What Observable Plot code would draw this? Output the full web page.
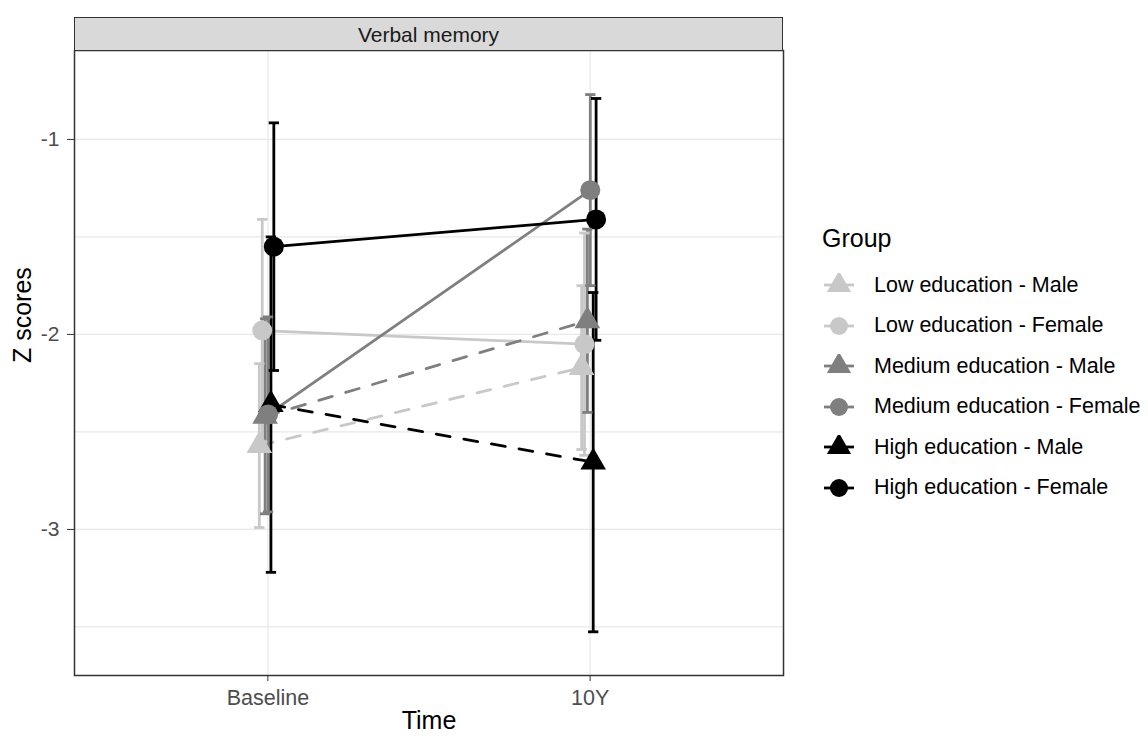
<!DOCTYPE html>
<html>
<head>
<meta charset="utf-8">
<script src="https://cdn.jsdelivr.net/npm/d3@7"></script>
<script src="https://cdn.jsdelivr.net/npm/@observablehq/plot@0.6"></script>
<style>
  html, body { margin: 0; padding: 0; background: #fff; }
  body { font-family: "Liberation Sans", Arial, sans-serif; }
  #wrap { position: relative; width: 1148px; height: 737px; overflow: hidden; }
  #strip { position: absolute; left: 74px; top: 17px; width: 707px; height: 32px;
           background: #d9d9d9; border: 1px solid #333; text-align: center;
           font-size: 21px; line-height: 33px; color: #1a1a1a; }
  #legend { position: absolute; left: 0; top: 0; color: #000; }
  #legend .title { position: absolute; left: 822px; top: 223px; font-size: 25px; line-height: 30px; white-space: nowrap; }
  #legend .item { position: absolute; left: 821px; height: 40px; display: flex; align-items: center;
                  font-size: 21.5px; white-space: nowrap; }
  #legend svg { margin-right: 17px; }
</style>
</head>
<body>
<div id="wrap">
  <div id="chart"></div>
  <div id="strip"></div>
  <div id="legend"></div>
</div>
<script>
const panelTitle = "Verbal memory";
const legendTitle = "Group";
const timePoints = ["Baseline", "10Y"];
const groups = [
  "Low education - Male",
  "Low education - Female",
  "Medium education - Male",
  "Medium education - Female",
  "High education - Male",
  "High education - Female"
];
const groupColors = ["#c8c8c8", "#c8c8c8", "#7f7f7f", "#7f7f7f", "#000000", "#000000"];
const groupSymbols = ["triangle", "circle", "triangle", "circle", "triangle", "circle"];
const groupSex = ["Male", "Female", "Male", "Female", "Male", "Female"];
const baselineMean = [-2.57, -1.98, -2.42, -2.41, -2.36, -1.55];
const baselineErr  = [0.42, 0.57, 0.50, 0.50, 0.86, 0.635];
const tenYearMean  = [-2.17, -2.05, -1.93, -1.26, -2.655, -1.41];
const tenYearErr   = [0.42, 0.57, 0.47, 0.49, 0.87, 0.62];
const yTicks = [-3, -2, -1];
const yMinorTicks = [-3.5, -2.5, -1.5];

const dodge = 0.009;
const dodgeShift = -0.004;
const capHalf = 0.016;

const rows = groups.flatMap((g, i) => [
  {g, i, t: 0, mean: baselineMean[i], err: baselineErr[i]},
  {g, i, t: 1, mean: tenYearMean[i], err: tenYearErr[i]}
]).map(d => ({
  ...d,
  x: d.t + (d.i - 2.5) * dodge + dodgeShift,
  lo: d.mean - d.err,
  hi: d.mean + d.err,
  color: groupColors[d.i],
  symbol: groupSymbols[d.i],
  sex: groupSex[d.i]
}));
const caps = rows.flatMap(d => [{...d, y: d.lo}, {...d, y: d.hi}]);
const males = rows.filter(d => d.sex === "Male");
const females = rows.filter(d => d.sex === "Female");

const chart = Plot.plot({
  width: 1148,
  height: 737,
  marginLeft: 74,
  marginRight: 365,
  marginTop: 50,
  marginBottom: 62,
  style: {fontFamily: "Liberation Sans, Arial, sans-serif", background: "#fff", fontSize: "21px"},
  x: {domain: [-0.6, 1.6]},
  y: {domain: [-3.749, -0.544]},
  marks: [
    Plot.gridY([...yTicks, ...yMinorTicks], {stroke: "#e8e8e8", strokeOpacity: 1, strokeWidth: 1.2}),
    Plot.gridX([0, 1], {stroke: "#e8e8e8", strokeOpacity: 1, strokeWidth: 1.2}),
    Plot.line(females, {x: "x", y: "mean", z: "g", stroke: "color", strokeWidth: 2.8}),
    Plot.line(males, {x: "x", y: "mean", z: "g", stroke: "color", strokeWidth: 2.8, strokeDasharray: "14,14"}),
    Plot.ruleX(rows, {x: "x", y1: "lo", y2: "hi", stroke: "color", strokeWidth: 2.8}),
    Plot.link(caps, {x1: d => d.x - capHalf, x2: d => d.x + capHalf, y1: "y", y2: "y", stroke: "color", strokeWidth: 2.8}),
    Plot.dot(rows.filter(d => d.symbol === "triangle"), {x: "x", y: "mean", symbol: "triangle", fill: "color", stroke: "none", r: 9.5}),
    Plot.dot(rows.filter(d => d.symbol === "circle"), {x: "x", y: "mean", symbol: "circle", fill: "color", stroke: "none", r: 10}),
    Plot.frame({stroke: "#333", strokeWidth: 1.5}),
    Plot.axisY(yTicks, {tickSize: 7, tickPadding: 8, stroke: "#333", fontSize: 21, color: "#4d4d4d", tickFormat: d => String(d), label: null}),
    Plot.axisX([0, 1], {tickSize: 6, tickPadding: 8, stroke: "#333", fontSize: 21.5, color: "#4d4d4d", tickFormat: d => timePoints[d], label: null}),
    Plot.text(["Time"], {frameAnchor: "bottom", dy: 53, fontSize: 25, fill: "#000"}),
    Plot.text(["Z scores"], {frameAnchor: "left", dx: -52, rotate: -90, fontSize: 25, fill: "#000"})
  ]
});
document.getElementById("chart").appendChild(chart);
document.getElementById("strip").textContent = panelTitle;

// Legend
const legend = document.getElementById("legend");
const title = document.createElement("div");
title.className = "title";
title.textContent = legendTitle;
legend.appendChild(title);
const legendCenters = groups.map((g, i) => 285 + i * 40.5);
groups.forEach((g, i) => {
  const item = document.createElement("div");
  item.className = "item";
  item.style.top = (legendCenters[i] - 20) + "px";
  const ns = "http://www.w3.org/2000/svg";
  const svg = document.createElementNS(ns, "svg");
  svg.setAttribute("width", 36);
  svg.setAttribute("height", 24);
  const line = document.createElementNS(ns, "line");
  line.setAttribute("x1", 3); line.setAttribute("x2", 33);
  line.setAttribute("y1", 12); line.setAttribute("y2", 12);
  line.setAttribute("stroke", groupColors[i]);
  line.setAttribute("stroke-width", 2.8);
  svg.appendChild(line);
  const sym = document.createElementNS(ns, "path");
  const isTri = groupSymbols[i] === "triangle";
  const size = Math.PI * 9 * 9;
  sym.setAttribute("d", d3.symbol(isTri ? d3.symbolTriangle : d3.symbolCircle, size)());
  sym.setAttribute("transform", "translate(18,12)");
  sym.setAttribute("fill", groupColors[i]);
  svg.appendChild(sym);
  item.appendChild(svg);
  const label = document.createElement("span");
  label.textContent = g;
  item.appendChild(label);
  legend.appendChild(item);
});
</script>
</body>
</html>
